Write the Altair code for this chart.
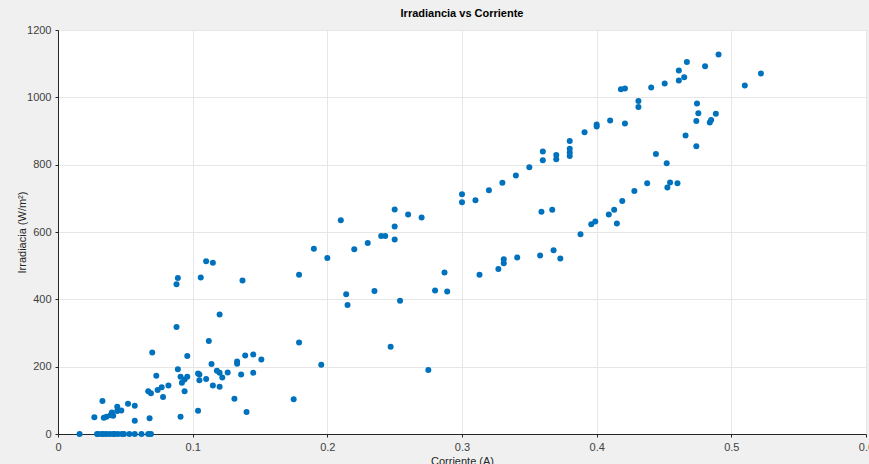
import altair as alt
import pandas as pd

corriente = [
    0.016, 0.029, 0.030, 0.0325, 0.034, 0.036, 0.0385, 0.041, 0.042, 0.0445, 0.0475, 0.049, 0.053, 0.057, 0.062, 0.067, 0.069,
    0.027, 0.033, 0.034, 0.036, 0.039, 0.040, 0.041, 0.044, 0.044, 0.047, 0.052, 0.057, 0.057, 0.067, 0.068, 0.069, 0.070,
    0.073, 0.074, 0.077, 0.078, 0.082, 0.088, 0.089, 0.088, 0.089, 0.091, 0.091, 0.092, 0.094, 0.094, 0.096, 0.096, 0.104,
    0.104, 0.105, 0.106, 0.105, 0.110, 0.110, 0.112, 0.114, 0.115, 0.115, 0.118, 0.120, 0.120, 0.120, 0.122, 0.126, 0.131,
    0.133, 0.133, 0.136, 0.137, 0.139, 0.140, 0.145, 0.145, 0.151, 0.175, 0.179, 0.179,
    0.190, 0.1955, 0.200, 0.210, 0.214, 0.215, 0.220, 0.230, 0.235, 0.240, 0.243, 0.247, 0.250, 0.250, 0.250, 0.254, 0.260,
    0.270, 0.275, 0.280, 0.287, 0.289, 0.300, 0.300, 0.310, 0.313, 0.320, 0.327, 0.330, 0.331, 0.331, 0.340, 0.341, 0.350,
    0.358, 0.359, 0.360, 0.360, 0.367, 0.368, 0.370, 0.370, 0.373, 0.380, 0.380, 0.380, 0.380, 0.388, 0.391, 0.396, 0.399,
    0.400, 0.400, 0.409, 0.410, 0.413, 0.415, 0.419, 0.418, 0.421, 0.421,
    0.428, 0.431, 0.431, 0.4375, 0.4405, 0.444, 0.4505, 0.452, 0.4525, 0.4545, 0.460, 0.461, 0.461, 0.465, 0.466, 0.467,
    0.474, 0.474, 0.4745, 0.4755, 0.4805, 0.484, 0.485, 0.4885, 0.4905, 0.510, 0.522,
]

irradiancia = [
    0, 0, 0, 0, 0, 0, 0, 0, 0, 0, 0, 0, 0, 0, 0, 0, 0,
    50, 98, 48, 51, 56, 64, 54, 81, 68, 70, 90, 84, 39, 127, 47, 121, 242,
    173, 131, 139, 110, 144, 445, 463, 318, 192, 170, 51, 152, 127, 162, 232, 170, 180,
    69, 160, 465, 177, 163, 513, 276, 208, 509, 144, 188, 355, 182, 140, 168, 183, 105,
    215, 209, 177, 456, 233, 65, 182, 236, 221, 103, 473, 272,
    550, 206, 523, 635, 415, 383, 549, 567, 425, 588, 588, 259, 667, 616, 578, 396, 652,
    643, 190, 426, 480, 423, 712, 688, 694, 473, 724, 490, 746, 519, 507, 768, 524, 792,
    530, 660, 839, 813, 666, 546, 829, 816, 521, 870, 847, 836, 826, 593, 896, 623, 631,
    919, 913, 652, 931, 666, 625, 692, 1024, 1026, 922,
    722, 989, 971, 745, 1029, 832, 1041, 804, 732, 747, 745, 1080, 1050, 1060, 887, 1105,
    855, 930, 982, 953, 1092, 925, 933, 951, 1127, 1035, 1071,
]

x_ticks = [0, 0.1, 0.2, 0.3, 0.4, 0.5, 0.6]
y_ticks = [0, 200, 400, 600, 800, 1000, 1200]

df = pd.DataFrame({"Corriente": corriente, "Irradiancia": irradiancia})

font = "Liberation Sans"
axis_color = "#262626"
label_color = "#404040"

chart = (
    alt.Chart(df)
    .mark_circle(size=36, color="#0072BD", opacity=1)
    .encode(
        x=alt.X(
            "Corriente:Q",
            scale=alt.Scale(domain=[0, 0.6], nice=False, zero=False),
            axis=alt.Axis(
                values=x_ticks,
                title="Corriente (A)",
                titleY=27,
                titleBaseline="middle",
                titleFont=font,
                titleFontSize=11,
                titleFontWeight="normal",
                titleColor=axis_color,
                labelFont=font,
                labelFontSize=11,
                labelColor=label_color,
                labelPadding=4,
                domainColor=axis_color,
                tickColor=axis_color,
                tickSize=3,
                gridColor="#e6e6e6",
                labelFlush=False,
                format="~g",
            ),
        ),
        y=alt.Y(
            "Irradiancia:Q",
            scale=alt.Scale(domain=[0, 1200], nice=False),
            axis=alt.Axis(
                values=y_ticks,
                format="d",
                title="Irradiacia (W/m²)",
                titleX=-36,
                titleY=202,
                titleAngle=-90,
                titleBaseline="middle",
                titleAlign="center",
                titleFont=font,
                titleFontSize=11,
                titleFontWeight="normal",
                titleColor=axis_color,
                labelFont=font,
                labelFontSize=11,
                labelColor=label_color,
                labelPadding=4,
                domainColor=axis_color,
                tickColor=axis_color,
                tickSize=3,
                gridColor="#e6e6e6",
                labelFlush=False,
            ),
        ),
    )
    .properties(
        width=808,
        height=404,
        title=alt.TitleParams(
            "Irradiancia vs Corriente",
            font=font,
            fontSize=11,
            fontWeight="bold",
            color="#000000",
            anchor="middle",
            offset=5,
        ),
        autosize=alt.AutoSizeParams(type="none"),
        padding={"left": 58, "top": 30, "right": 3, "bottom": 30},
        background="#f0f0f0",
    )
    .configure_view(fill="white", stroke=None)
)

chart.save("out.html", embed_options={"renderer": "svg", "actions": False})
